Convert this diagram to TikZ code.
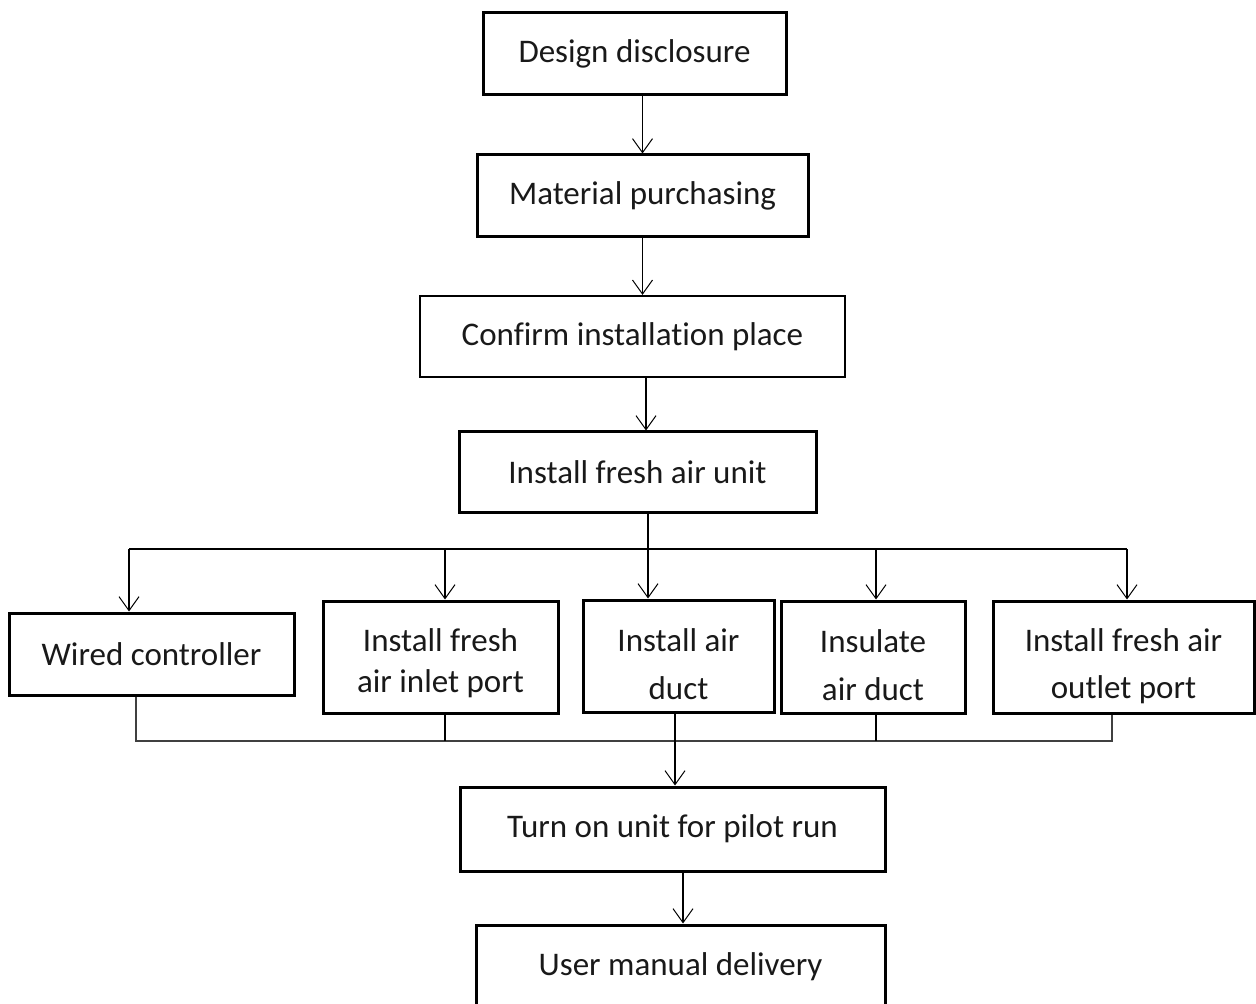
\documentclass[tikz,border=0pt]{standalone}
\usepackage{fontspec}
\setmainfont{Carlito}[Ligatures={NoCommon}]
\usetikzlibrary{arrows.meta}
\begin{document}
\begin{tikzpicture}[x=0.5pt,y=-0.5pt,
  box/.style={draw, line width=1.5pt, inner sep=0pt, align=center, text=black!90,
    font=\fontsize{16.5}{20.5}\selectfont},
  conn/.style={line width=0.7pt},
  arr/.style={conn, -{Straight Barb[length=7pt,width=10pt,line width=0.5pt]}}]
\useasboundingbox (0,0) rectangle (1256,1004);
% main chain
\node[box, minimum width=151.5pt, minimum height=41pt] (design) at (634.5,54) {Design disclosure};
\node[box, minimum width=165.5pt, minimum height=41pt] (material) at (642.5,196) {Material purchasing};
\node[box, line width=1.1pt, minimum width=212.5pt, minimum height=40.5pt] (confirm) at (632.5,336.5) {Confirm installation place};
\node[box, minimum width=178.5pt, minimum height=40.5pt] (unit) at (637.5,472.5) {Install fresh air unit};
% parallel tasks
\node[box, minimum width=142.5pt, minimum height=41pt] (wired) at (151.5,654) {Wired controller};
\node[box, minimum width=117.5pt, minimum height=56pt, font=\fontsize{16.5}{20.5}\selectfont] (inlet) at (440.5,657) {\rule{0pt}{18pt}Install fresh\\air inlet port};
\node[box, minimum width=95.5pt, minimum height=56pt, font=\fontsize{16.5}{24}\selectfont] (duct) at (678.5,656) {\rule{0pt}{20pt}Install air\\duct};
\node[box, minimum width=92pt, minimum height=56pt, font=\fontsize{16.5}{24}\selectfont] (insulate) at (873,657) {\rule{0pt}{19.5pt}Insulate\\air duct};
\node[box, minimum width=130.5pt, minimum height=56pt, font=\fontsize{16.5}{23.5}\selectfont] (outlet) at (1123.5,657) {\rule{0pt}{20.5pt}Install fresh air\\outlet port};
% final steps
\node[box, minimum width=212.5pt, minimum height=42pt] (pilot) at (672.5,829) {Turn on unit for pilot run};
\node[box, minimum width=204.5pt, minimum height=42pt] (manual) at (680.5,967) {User manual delivery};
% coordinates
\coordinate (a3) at ([xshift=4.25pt]unit.north);
\coordinate (b0) at ([xshift=5.25pt]unit.south);
\coordinate (busL) at (129,549);
\coordinate (k2) at (445,549);
\coordinate (k3) at (648,549);
\coordinate (k4) at (876,549);
\coordinate (busR) at (1127,549);
\coordinate (m1) at (136,741);
\coordinate (m2) at (445,741);
\coordinate (m3) at (675,741);
\coordinate (m4) at (876,741);
\coordinate (m5) at (1112,741);
\coordinate (f) at (683,900);
% connectors
\draw[arr] (design.south -| material.north) -- (material.north);
\draw[arr] (material.south) -- (material.south |- confirm.north);
\draw[arr] (a3 |- confirm.south) -- (a3);
\draw[conn, line width=1pt] (b0) -- (k3);
\draw[arr, line width=1pt] (k3) -- (k3 |- duct.north);
\draw[conn] (busL) -- (busR);
\draw[arr] (busL) -- (busL |- wired.north);
\draw[arr] (k2) -- (k2 |- inlet.north);
\draw[arr] (k4) -- (k4 |- insulate.north);
\draw[arr] (busR) -- (busR |- outlet.north);
\draw[conn, draw=black!75] (m1 |- wired.south) -- (m1) -- (m5) -- (m5 |- outlet.south);
\draw[conn] (m2 |- inlet.south) -- (m2);
\draw[conn] (m4 |- insulate.south) -- (m4);
\draw[arr] (m3 |- duct.south) -- (m3 |- pilot.north);
\draw[arr, line width=1pt] (f |- pilot.south) -- (f |- manual.north);
\end{tikzpicture}
\end{document}
